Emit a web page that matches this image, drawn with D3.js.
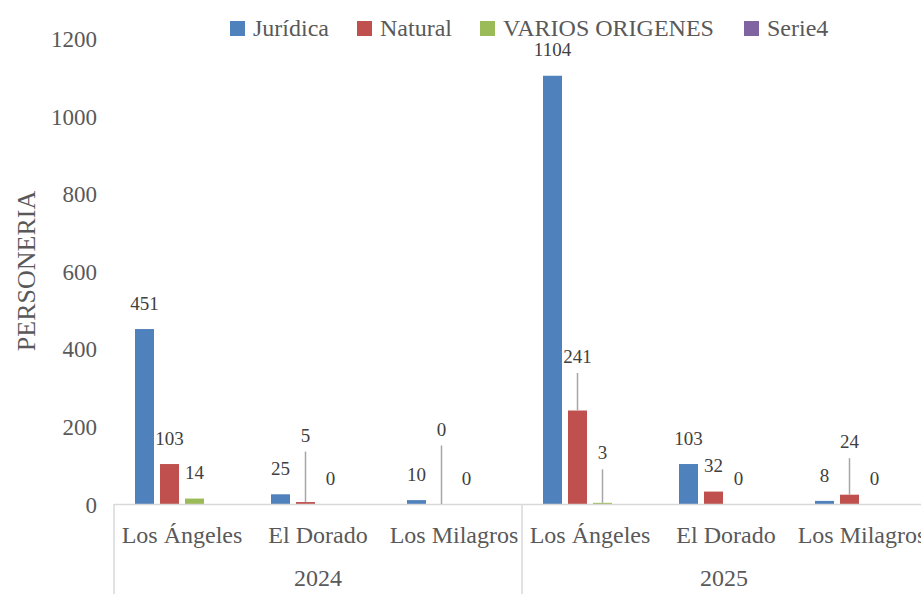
<!DOCTYPE html>
<html>
<head>
<meta charset="utf-8">
<script src="https://cdn.jsdelivr.net/npm/d3@7"></script>
<style>
  html, body { margin: 0; padding: 0; background: #fff; overflow: hidden; }
  svg { display: block; font-family: 'Liberation Serif', 'Times New Roman', Times, serif; }
  svg text { font-family: 'Liberation Serif', 'Times New Roman', Times, serif !important; }
</style>
</head>
<body>
<svg id="chart" width="921" height="594"></svg>
<script>
// ---- data ----
const categories = ["Los Ángeles", "El Dorado", "Los Milagros", "Los Ángeles", "El Dorado", "Los Milagros"];
const years = ["2024", "2025"];
const seriesNames = ["Jurídica", "Natural", "VARIOS ORIGENES", "Serie4"];
const juridica = [451, 25, 10, 1104, 103, 8];
const natural  = [103, 5, 0, 241, 32, 24];
const varios   = [14, 0, 0, 3, 0, 0];
const serie4   = [null, null, null, null, null, null];
const yTicks = [0, 200, 400, 600, 800, 1000, 1200];

// label adjustments (moved labels with leader lines): category index, series index, vertical shift
const labelMoves = [
  { c: 1, s: 1, dy: -41 },
  { c: 2, s: 1, dy: -49 },
  { c: 3, s: 1, dy: -28 },
  { c: 3, s: 2, dy: -24 },
  { c: 5, s: 1, dy: -27 }
];

const FONT = "'Liberation Serif', 'Times New Roman', Times, serif";
const colors = ["#4F81BD", "#C0504D", "#9BBB59", "#8064A2"];
const values = [juridica, natural, varios, serie4];

const svg = d3.select("#chart");

const x0 = d3.scaleBand().domain(d3.range(categories.length)).range([114, 930]).padding(0);
const x1 = d3.scaleBand().domain(d3.range(seriesNames.length)).range([0, x0.bandwidth()])
  .paddingInner(0.24).paddingOuter(0.84);
const y = d3.scaleLinear().domain([0, 1200]).range([504, 38.5]);

// y axis labels
const yAxis = d3.axisLeft(y).tickValues(yTicks).tickSize(0).tickPadding(0).tickFormat(d3.format("d"));
const gy = svg.append("g").attr("transform", "translate(97,0)").call(yAxis);
gy.attr("font-family", FONT);
gy.select(".domain").remove();
gy.selectAll("text").attr("font-family", FONT).style("font-family", FONT)
  .style("font-size", "23px").attr("fill", "#595959").attr("dy", "0.35em");

// y title
svg.append("text")
  .attr("transform", "translate(26,271) rotate(-90)")
  .attr("text-anchor", "middle").attr("dy", "0.35em")
  .style("font-family", FONT).style("font-size", "26px").attr("fill", "#595959")
  .text("PERSONERIA");

// bars
const barData = [];
values.forEach((arr, s) => arr.forEach((v, c) => { if (v !== null) barData.push({ c, s, v }); }));

svg.append("g").selectAll("rect").data(barData).join("rect")
  .attr("x", d => x0(d.c) + x1(d.s))
  .attr("width", x1.bandwidth())
  .attr("y", d => y(d.v))
  .attr("height", d => y(0) - y(d.v))
  .attr("fill", d => colors[d.s]);

// category axis line & separators
const axisColor = "#D9D9D9";
svg.append("line").attr("x1", x0.range()[0]).attr("x2", 921).attr("y1", y(0) + 0.5).attr("y2", y(0) + 0.5)
  .attr("stroke", axisColor).attr("stroke-width", 1.5);
const sepX = [x0(0), x0(3), x0.range()[1]];
svg.append("g").selectAll("line").data(sepX).join("line")
  .attr("x1", d => d).attr("x2", d => d).attr("y1", y(0)).attr("y2", 594)
  .attr("stroke", axisColor).attr("stroke-width", 1.5);

// category labels
svg.append("g").selectAll("text").data(categories).join("text")
  .attr("x", (d, i) => x0(i) + x0.bandwidth() / 2)
  .attr("y", 543)
  .attr("text-anchor", "middle")
  .style("font-family", FONT).style("font-size", "24px").attr("fill", "#595959")
  .text(d => d);

// year labels
svg.append("g").selectAll("text").data(years).join("text")
  .attr("x", (d, i) => (x0(i * 3) + x0(i * 3 + 2) + x0.bandwidth()) / 2 - (i === 1 ? 2 : 0))
  .attr("y", 586)
  .attr("text-anchor", "middle")
  .style("font-family", FONT).style("font-size", "24px").attr("fill", "#595959")
  .text(d => d);

// data labels (series 0-2)
const labelData = barData.filter(d => d.s < 3).map(d => {
  const mv = labelMoves.find(m => m.c === d.c && m.s === d.s);
  const cx = x0(d.c) + x1(d.s) + x1.bandwidth() / 2;
  const cy = y(d.v) - 26 + (mv ? mv.dy : 0);
  return { ...d, cx, cy, moved: !!mv };
});

svg.append("g").selectAll("line").data(labelData.filter(d => d.moved)).join("line")
  .attr("x1", d => d.cx).attr("x2", d => d.cx)
  .attr("y1", d => d.cy + 16.5).attr("y2", d => y(d.v))
  .attr("stroke", "#A6A6A6").attr("stroke-width", 1.5);

svg.append("g").selectAll("text").data(labelData).join("text")
  .attr("x", d => d.cx).attr("y", d => d.cy)
  .attr("dy", "0.35em")
  .attr("text-anchor", "middle")
  .style("font-family", FONT).style("font-size", "19px")
  .attr("fill", "#404040")
  .text(d => d.v);

// legend
const legendX = [230, 357, 480, 744];
const lg = svg.append("g").selectAll("g").data(seriesNames).join("g")
  .attr("transform", (d, i) => `translate(${legendX[i]},0)`);
lg.append("rect").attr("x", 0).attr("y", 21).attr("width", 15).attr("height", 15)
  .attr("fill", (d, i) => colors[i]);
lg.append("text").attr("x", 23).attr("y", 28).attr("dy", "0.35em")
  .style("font-family", FONT).style("font-size", "24px").attr("fill", "#595959")
  .text(d => d);
</script>
</body>
</html>
